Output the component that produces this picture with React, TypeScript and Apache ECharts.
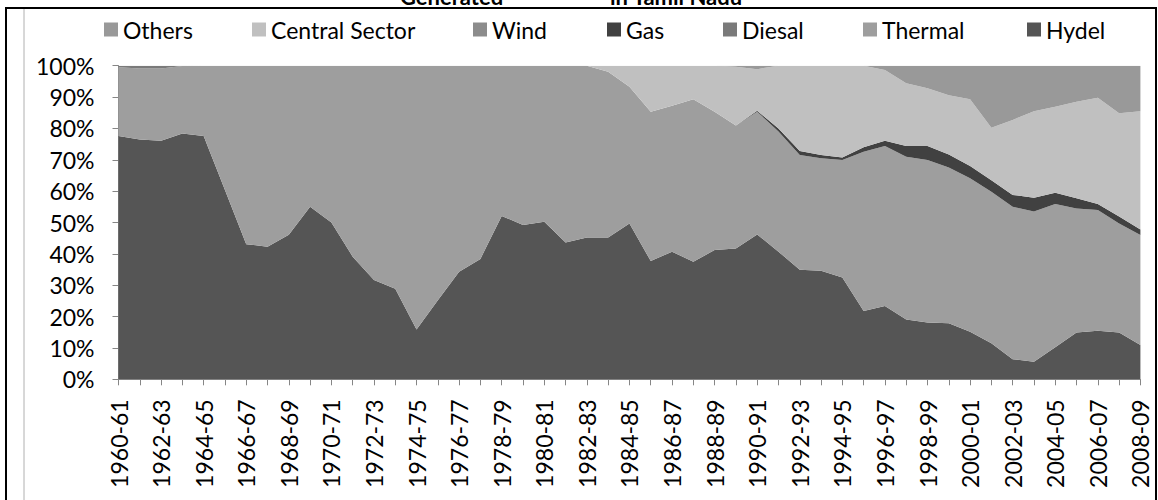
import React, { useEffect, useRef } from "react";
import * as echarts from "echarts";

const categories = [
  "1960-61","1961-62","1962-63","1963-64","1964-65","1965-66","1966-67","1967-68","1968-69","1969-70",
  "1970-71","1971-72","1972-73","1973-74","1974-75","1975-76","1976-77","1977-78","1978-79","1979-80",
  "1980-81","1981-82","1982-83","1983-84","1984-85","1985-86","1986-87","1987-88","1988-89","1989-90",
  "1990-91","1991-92","1992-93","1993-94","1994-95","1995-96","1996-97","1997-98","1998-99","1999-00",
  "2000-01","2001-02","2002-03","2003-04","2004-05","2005-06","2006-07","2007-08","2008-09",
];

const hydel = [
  77.6, 76.5, 76.1, 78.4, 77.6, 60.4, 43.1, 42.3, 46.1, 55.0,
  50.0, 39.1, 31.7, 28.9, 15.9, 25.2, 34.3, 38.4, 52.1, 49.2,
  50.2, 43.6, 45.2, 45.2, 49.7, 37.7, 40.7, 37.5, 41.2, 41.7,
  46.2, 40.7, 34.9, 34.6, 32.5, 21.8, 23.4, 19.1, 18.1, 17.9,
  15.2, 11.5, 6.4, 5.6, 10.2, 14.9, 15.5, 14.9, 10.9,
];
const thermal = [
  21.9, 22.6, 23.0, 21.5, 22.4, 39.6, 56.9, 57.7, 53.9, 45.0,
  50.0, 60.9, 68.3, 71.1, 84.1, 74.8, 65.7, 61.6, 47.9, 50.8,
  49.8, 56.4, 54.8, 52.9, 43.6, 47.6, 46.5, 51.8, 44.1, 39.2,
  39.1, 38.3, 36.6, 35.9, 37.4, 50.8, 51.0, 51.9, 51.8, 49.6,
  48.9, 48.3, 48.6, 47.9, 45.7, 39.6, 38.5, 34.8, 35.1,
];
const diesel = [
  0.5, 0.9, 0.9, 0.1, 0, 0, 0, 0, 0, 0,
  0, 0, 0, 0, 0, 0, 0, 0, 0, 0,
  0, 0, 0, 0, 0, 0, 0, 0, 0, 0,
  0, 0, 0, 0, 0, 0, 0, 0, 0, 0,
  0, 0, 0, 0, 0, 0, 0, 0, 0,
];
const gas = [
  0, 0, 0, 0, 0, 0, 0, 0, 0, 0,
  0, 0, 0, 0, 0, 0, 0, 0, 0, 0,
  0, 0, 0, 0, 0, 0, 0, 0, 0, 0,
  0.3, 1.0, 1.3, 1.0, 0.8, 1.4, 1.7, 3.4, 4.5, 4.2,
  3.9, 3.7, 3.8, 4.4, 3.6, 3.2, 1.9, 2.2, 1.8,
];
const wind = [
  0, 0, 0, 0, 0, 0, 0, 0, 0, 0,
  0, 0, 0, 0, 0, 0, 0, 0, 0, 0,
  0, 0, 0, 0, 0, 0, 0, 0, 0, 0,
  0, 0, 0, 0, 0, 0, 0, 0, 0, 0,
  0, 0, 0, 0, 0, 0, 0, 0, 0,
];
const centralSector = [
  0, 0, 0, 0, 0, 0, 0, 0, 0, 0,
  0, 0, 0, 0, 0, 0, 0, 0, 0, 0,
  0, 0, 0, 1.9, 6.7, 14.7, 12.8, 10.7, 14.7, 18.8,
  13.3, 20.0, 27.2, 28.5, 29.3, 26.0, 22.5, 20.0, 18.4, 18.9,
  21.3, 16.7, 23.9, 27.6, 27.4, 30.8, 33.9, 32.9, 37.7,
];
const others = [
  0, 0, 0, 0, 0, 0, 0, 0, 0, 0,
  0, 0, 0, 0, 0, 0, 0, 0, 0, 0,
  0, 0, 0, 0, 0, 0, 0, 0, 0, 0.3,
  1.1, 0, 0, 0, 0, 0, 1.4, 5.6, 7.2, 9.4,
  10.7, 19.8, 17.3, 14.5, 13.1, 11.5, 10.2, 15.2, 14.5,
];

const seriesNames = ["Hydel", "Thermal", "Diesal", "Gas", "Wind", "Central Sector", "Others"];
const seriesData = [hydel, thermal, diesel, gas, wind, centralSector, others];
const seriesColors = ["#555555", "#9e9e9e", "#7a7a7a", "#414141", "#8c8c8c", "#c0c0c0", "#999999"];

const legendOrder = ["Others", "Central Sector", "Wind", "Gas", "Diesal", "Thermal", "Hydel"];
const legendLeft = [104, 252, 473, 607, 723, 863, 1027];

const FONT = "Lato, Liberation Sans, Arial, sans-serif";

export default function App() {
  const ref = useRef<HTMLDivElement>(null);

  useEffect(() => {
    document.body.style.margin = "0";
    const chart = echarts.init(ref.current!, null, { renderer: "svg" });
    const option: any = {
      animation: false,
      backgroundColor: "#ffffff",
      textStyle: { fontFamily: FONT },
      legend: legendOrder.map((name, i) => ({
        data: [name],
        left: legendLeft[i],
        top: 18,
        padding: 0,
        itemWidth: 14,
        itemHeight: 14,
        itemGap: 0,
        icon: "rect",
        textStyle: { fontFamily: FONT, fontSize: 23, color: "#000" },
        selectedMode: false,
      })),
      grid: { left: 118.5, right: 17.6, top: 65.7, bottom: 120.7, containLabel: false },
      xAxis: {
        type: "category",
        data: categories,
        boundaryGap: false,
        axisLine: { lineStyle: { color: "#868686", width: 1 } },
        axisTick: { show: true, interval: 0, length: 6, lineStyle: { color: "#868686" } },
        axisLabel: { interval: 1, rotate: 90, fontSize: 23, color: "#000", fontFamily: FONT, margin: 20 },
        splitLine: { show: false },
      },
      yAxis: {
        type: "value",
        min: 0,
        max: 100,
        interval: 10,
        axisLine: { show: true, lineStyle: { color: "#868686", width: 1 } },
        axisTick: { show: true, length: 6, lineStyle: { color: "#868686" } },
        axisLabel: { formatter: "{value}%", fontSize: 23, color: "#000", fontFamily: FONT, margin: 24 },
        splitLine: { show: false },
      },
      series: seriesNames.map((name, i) => ({
        name,
        type: "line",
        stack: "total",
        data: seriesData[i],
        symbol: "none",
        showSymbol: false,
        lineStyle: { width: 0, color: seriesColors[i] },
        itemStyle: { color: seriesColors[i] },
        areaStyle: { color: seriesColors[i], opacity: 1 },
        emphasis: { disabled: true },
      })),
      graphic: [
        {
          type: "rect",
          shape: { x: 6, y: 8, width: 1150, height: 520 },
          style: { fill: "none", stroke: "#000", lineWidth: 2 },
          silent: true,
        },
        {
          type: "line",
          shape: { x1: 24, y1: 9, x2: 24, y2: 500 },
          style: { stroke: "#b0b0b0", lineWidth: 1 },
          silent: true,
        },
        {
          type: "text",
          x: 400,
          y: 7,
          style: { text: "Generated", font: "bold 22px " + FONT, fill: "#000", textVerticalAlign: "bottom" },
          silent: true,
        },
        {
          type: "text",
          x: 610,
          y: 7,
          style: { text: "in Tamil Nadu", font: "bold 22px " + FONT, fill: "#000", textVerticalAlign: "bottom" },
          silent: true,
        },
      ],
    };
    chart.setOption(option);
    return () => chart.dispose();
  }, []);

  return (
    <div
      ref={ref}
      style={{ position: "fixed", left: 0, top: 0, width: 1158, height: 500, background: "#fff" }}
    />
  );
}
